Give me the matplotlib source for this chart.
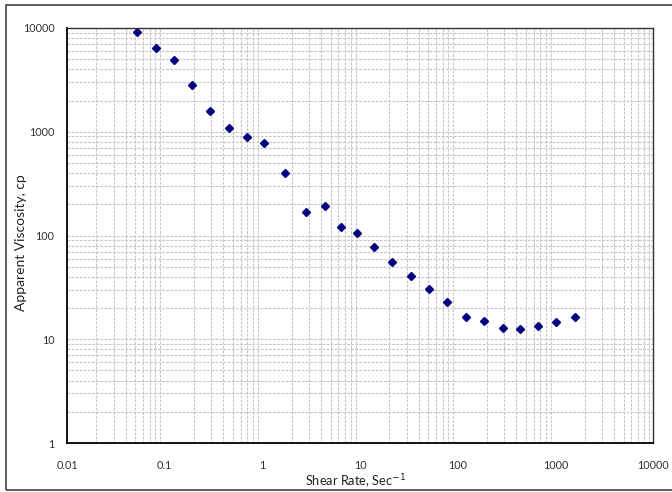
import matplotlib.pyplot as plt
import matplotlib.ticker as mticker
from matplotlib.patches import Rectangle

# shear rate (1/s) and apparent viscosity (cp)
shear_rate = [0.0525, 0.0814, 0.125, 0.192, 0.293, 0.453, 0.697, 1.05, 1.69,
              2.80, 4.41, 6.39, 9.31, 14.0, 21.4, 33.0, 50.8, 77.8, 122,
              185, 289, 437, 669, 1023, 1578]
viscosity = [9090, 6415, 4883, 2842, 1574, 1087, 896, 784, 398,
             170, 191, 120, 106, 77.5, 55.5, 40.7, 30.5, 22.9, 16.4,
             15.0, 12.9, 12.6, 13.4, 14.7, 16.5]

x_ticks = [0.01, 0.1, 1, 10, 100, 1000, 10000]
y_ticks = [1, 10, 100, 1000, 10000]

plt.rcParams['font.family'] = ['Lato', 'DejaVu Sans']

fig = plt.figure(figsize=(6.72, 4.92), dpi=100)
ax = fig.add_axes([67 / 672, 1 - 443 / 492, 586 / 672, 415 / 492])

# outer frame (right edge runs off the canvas)
fig.patches.append(Rectangle((6 / 672, 1 - 490 / 492), 1.0, 485 / 492,
                             transform=fig.transFigure, fill=False,
                             edgecolor='#404040', linewidth=1.2, clip_on=False))

ax.set_xscale('log')
ax.set_yscale('log')
ax.set_xlim(0.01, 10000)
ax.set_ylim(1, 10000)

ax.xaxis.set_major_locator(mticker.FixedLocator(x_ticks))
ax.yaxis.set_major_locator(mticker.FixedLocator(y_ticks))
ax.xaxis.set_major_formatter(mticker.FixedFormatter([f"{t:g}" for t in x_ticks]))
ax.yaxis.set_major_formatter(mticker.FixedFormatter([f"{t:g}" for t in y_ticks]))
ax.xaxis.set_minor_locator(mticker.LogLocator(base=10, subs=range(2, 10), numticks=20))
ax.yaxis.set_minor_locator(mticker.LogLocator(base=10, subs=range(2, 10), numticks=20))
ax.xaxis.set_minor_formatter(mticker.NullFormatter())
ax.yaxis.set_minor_formatter(mticker.NullFormatter())

grid_kw = dict(color='#c6c6c6', linestyle=(0, (2.5, 1.2)), linewidth=0.8)
ax.grid(True, which='minor', axis='both', **grid_kw)
ax.grid(True, which='major', axis='y', **grid_kw)
ax.set_axisbelow(True)

ax.tick_params(which='both', length=0, labelsize=7.8, colors='#333333')
ax.tick_params(axis='x', pad=12)
ax.tick_params(axis='y', pad=9)

for side in ['left', 'bottom']:
    ax.spines[side].set_color('black')
    ax.spines[side].set_linewidth(1.3)
for side in ['top', 'right']:
    ax.spines[side].set_color('#333333')
    ax.spines[side].set_linewidth(1.0)

ax.plot(shear_rate, viscosity, linestyle='none', marker='D', markersize=4.2,
        color='#00007f', markeredgecolor='#00007f')

ax.set_xlabel('Shear Rate, Sec$^{-1}$', fontsize=9.2, color='#222222')
ax.set_ylabel('Apparent Viscosity, cp', fontsize=10, color='#222222')
ax.xaxis.set_label_coords(0.493, -0.072)
ax.yaxis.set_label_coords(-0.068, 0.482)

fig.savefig('out.png', dpi=100)
